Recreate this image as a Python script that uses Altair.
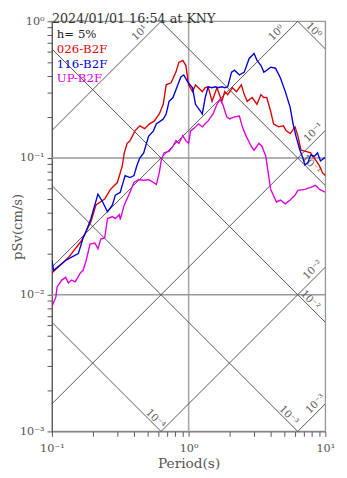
import altair as alt
import pandas as pd
import numpy as np

TITLE = "2024/01/01 16:54 at KNY"
DAMPING = "h= 5%"
SERIES = ["026-B2F", "116-B2F", "UP-B2F"]
COLORS = ["#dd0000", "#0000dd", "#dd00dd"]
FONT = "DejaVu Serif"

red_T = [0.100, 0.132, 0.164, 0.193, 0.210, 0.243, 0.268, 0.301, 0.327, 0.338, 0.355, 0.373, 0.405, 0.439,
         0.477, 0.518, 0.562, 0.610, 0.652, 0.685, 0.744, 0.807, 0.849, 0.906, 0.953, 1.000, 1.068, 1.122,
         1.179, 1.259, 1.322, 1.389, 1.484, 1.611, 1.750, 1.837, 1.931, 2.096, 2.239, 2.430, 2.553, 2.683,
         2.914, 3.162, 3.378, 3.548, 3.728, 3.981, 4.179, 4.541, 4.929, 5.179, 5.529, 6.005, 6.310, 6.631,
         7.197, 7.810, 8.072, 8.483, 9.060, 9.520, 10.0]
red_sv = [0.0144, 0.0187, 0.0247, 0.0343, 0.0454, 0.0501, 0.0590, 0.0662, 0.0877, 0.109, 0.128, 0.134, 0.158,
          0.172, 0.164, 0.178, 0.187, 0.210, 0.247, 0.343, 0.355, 0.425, 0.501, 0.518, 0.477, 0.343, 0.306,
          0.343, 0.327, 0.306, 0.327, 0.332, 0.260, 0.327, 0.260, 0.306, 0.291, 0.327, 0.306, 0.343, 0.291,
          0.260, 0.277, 0.247, 0.291, 0.277, 0.277, 0.220, 0.178, 0.169, 0.172, 0.158, 0.151, 0.169, 0.144,
          0.114, 0.112, 0.109, 0.103, 0.0968, 0.0877, 0.0781, 0.0744]

blue_T = [0.100, 0.103, 0.126, 0.137, 0.156, 0.169, 0.178, 0.193, 0.217, 0.235, 0.255, 0.277, 0.291, 0.316,
          0.343, 0.373, 0.398, 0.418, 0.439, 0.469, 0.509, 0.553, 0.581, 0.610, 0.652, 0.685, 0.719, 0.768,
          0.834, 0.877, 0.921, 0.984, 1.068, 1.122, 1.219, 1.259, 1.322, 1.389, 1.484, 1.560, 1.638, 1.750,
          1.837, 1.931, 2.062, 2.166, 2.352, 2.553, 2.773, 2.914, 3.011, 3.162, 3.378, 3.548, 3.728, 3.981,
          4.321, 4.694, 5.095, 5.529, 5.808, 6.105, 6.522, 6.855, 7.080, 7.438, 7.810, 8.343, 8.770, 9.210,
          9.840, 10.0]
blue_sv = [0.0178, 0.0151, 0.0178, 0.0187, 0.0200, 0.0260, 0.0291, 0.0361, 0.0544, 0.0477, 0.0405, 0.0454,
           0.0535, 0.0562, 0.0744, 0.0720, 0.0744, 0.0877, 0.100, 0.109, 0.144, 0.158, 0.178, 0.184, 0.193,
           0.210, 0.260, 0.277, 0.343, 0.392, 0.405, 0.361, 0.327, 0.247, 0.220, 0.210, 0.277, 0.332, 0.327,
           0.332, 0.327, 0.332, 0.327, 0.332, 0.425, 0.439, 0.405, 0.425, 0.535, 0.562, 0.581, 0.518, 0.477,
           0.425, 0.439, 0.462, 0.454, 0.385, 0.306, 0.235, 0.178, 0.144, 0.114, 0.100, 0.0891, 0.0921, 0.105,
           0.103, 0.109, 0.0952, 0.100, 0.100]

up_T = [0.100, 0.107, 0.109, 0.118, 0.126, 0.132, 0.139, 0.148, 0.161, 0.169, 0.178, 0.190, 0.206, 0.217,
        0.228, 0.243, 0.255, 0.277, 0.291, 0.311, 0.316, 0.338, 0.367, 0.398, 0.432, 0.469, 0.509, 0.553,
        0.581, 0.610, 0.631, 0.662, 0.719, 0.768, 0.807, 0.849, 0.906, 0.953, 1.000, 1.033, 1.086, 1.122,
        1.179, 1.259, 1.322, 1.389, 1.509, 1.611, 1.693, 1.778, 1.900, 1.995, 2.166, 2.352, 2.471, 2.639,
        2.866, 3.011, 3.268, 3.434, 3.668, 3.728, 3.981, 4.394, 4.694, 5.095, 5.529, 6.005, 6.310, 7.080,
        7.810, 8.483, 9.060, 10.0]
up_sv = [0.00820, 0.00968, 0.0114, 0.0128, 0.0134, 0.0122, 0.0128, 0.0124, 0.0144, 0.0151, 0.0178, 0.0235,
         0.0239, 0.0217, 0.0255, 0.0260, 0.0361, 0.0373, 0.0361, 0.0385, 0.0355, 0.0454, 0.0544, 0.0662,
         0.0696, 0.0685, 0.0696, 0.0662, 0.0641, 0.0781, 0.0968, 0.109, 0.112, 0.122, 0.134, 0.128, 0.146,
         0.134, 0.128, 0.158, 0.164, 0.169, 0.178, 0.169, 0.178, 0.187, 0.210, 0.247, 0.268, 0.247, 0.200,
         0.193, 0.200, 0.203, 0.169, 0.144, 0.122, 0.114, 0.128, 0.122, 0.103, 0.0921, 0.0590, 0.0477,
         0.0493, 0.0462, 0.0493, 0.0535, 0.0581, 0.0590, 0.0611, 0.0631, 0.0590, 0.0562]

# tripartite guide lines: displacement (cm) and acceleration (cm/s^2)
disp_levels = [1e-4, 1e-3, 1e-2, 1e-1, 1.0]
disp_texts = ["10⁻⁴", "10⁻³", "10⁻²", "10⁻¹", "10⁰"]
disp_label_T = [0.54, 5.09, 7.31, 7.44, 7.74]
acc_levels = [1e-3, 1e-2, 1e-1, 1.0, 10.0]
acc_texts = ["10⁻³", "10⁻²", "10⁻¹", "10⁰", "10¹"]
acc_label_T = [9.2, 8.8, 8.9, 4.77, 0.477]

x_ticks = [k * 10.0 ** e for e in (-1, 0) for k in range(1, 10)] + [10.0]
y_ticks = [k * 10.0 ** e for e in (-3, -2, -1) for k in range(1, 10)] + [1.0]

rows = []
for name, Ts, Ss in zip(SERIES, [red_T, blue_T, up_T], [red_sv, blue_sv, up_sv]):
    assert len(Ts) == len(Ss), name
    for i, (t, s) in enumerate(zip(Ts, Ss)):
        rows.append({"series": name, "T": t, "Sv": s, "i": i})
curves = pd.DataFrame(rows)

TWO_PI = 2 * np.pi
diag_rows = []
for d, txt in zip(disp_levels, disp_texts):
    for t in (0.1, 10.0):
        diag_rows.append({"line": "D" + txt, "T": t, "Sv": TWO_PI * d / t})
for a, txt in zip(acc_levels, acc_texts):
    for t in (0.1, 10.0):
        diag_rows.append({"line": "A" + txt, "T": t, "Sv": a * t / TWO_PI})
diag = pd.DataFrame(diag_rows)

disp_lab = pd.DataFrame({"T": disp_label_T,
                         "Sv": [TWO_PI * d / t for d, t in zip(disp_levels, disp_label_T)],
                         "label": disp_texts})
acc_lab = pd.DataFrame({"T": acc_label_T,
                        "Sv": [a * t / TWO_PI for a, t in zip(acc_levels, acc_label_T)],
                        "label": acc_texts})

x_label_expr = ("datum.value == 0.1 ? '10⁻¹' : datum.value == 1 ? '10⁰' : "
                "datum.value == 10 ? '10¹' : ''")
y_label_expr = ("datum.value == 1 ? '10⁰' : datum.value == 0.1 ? '10⁻¹' : "
                "datum.value == 0.01 ? '10⁻²' : datum.value == 0.001 ? '10⁻³' : ''")

x_axis = alt.Axis(values=x_ticks, labelExpr=x_label_expr, title="Period(s)",
                  titleFont=FONT, titleFontSize=14, titleFontWeight="normal", titleColor="#555",
                  titleX=140, titleY=37, titleAlign="center", titleBaseline="alphabetic",
                  labelFont=FONT, labelFontSize=11.5, labelColor="#555", labelBaseline="alphabetic",
                  labelPadding=16, labelOverlap=False, labelFlush=False,
                  tickSize=5, tickColor="#555", domainColor="#777", grid=False)
y_axis = alt.Axis(values=y_ticks, labelExpr=y_label_expr, title="pSv(cm/s)",
                  titleFont=FONT, titleFontSize=13.5, titleFontWeight="normal", titleColor="#555",
                  titleX=-31, titleY=210, titleAngle=270, titleAlign="center", titleBaseline="alphabetic",
                  labelFont=FONT, labelFontSize=11.5, labelColor="#555", labelBaseline="middle",
                  labelPadding=3, labelOverlap=False, labelFlush=False,
                  tickSize=5, tickColor="#555", domainColor="#555", grid=False)

x_scale = alt.Scale(type="log", domain=[0.1, 10], nice=False)
y_scale = alt.Scale(type="log", domain=[0.001, 1], nice=False)
X = alt.X("T:Q", scale=x_scale, axis=x_axis)
Y = alt.Y("Sv:Q", scale=y_scale, axis=y_axis)

vgrid = alt.Chart(pd.DataFrame({"T": [1.0]})).mark_rule(color="#aaa", strokeWidth=1.6).encode(x=X)
hgrid = alt.Chart(pd.DataFrame({"Sv": [0.1, 0.01]})).mark_rule(color="#999", strokeWidth=1.4).encode(y=Y)

diag_lines = alt.Chart(diag).mark_line(clip=True, color="#555", strokeWidth=1.0).encode(
    x=X, y=Y, detail="line:N")

disp_text = alt.Chart(disp_lab).mark_text(angle=45, dy=-5, align="center", baseline="middle",
                                          font=FONT, fontSize=10.5, color="#555").encode(
    x=X, y=Y, text="label:N")
acc_text = alt.Chart(acc_lab).mark_text(angle=315, dy=-7, align="center", baseline="middle",
                                        font=FONT, fontSize=10.5, color="#555").encode(
    x=X, y=Y, text="label:N")

curve_lines = alt.Chart(curves).mark_line(clip=True, strokeWidth=1.4).encode(
    x=X, y=Y,
    color=alt.Color("series:N", scale=alt.Scale(domain=SERIES, range=COLORS), legend=None),
    order="i:Q")

one = pd.DataFrame({"a": [0]})
title_layer = alt.Chart(one).mark_text(align="left", baseline="alphabetic", font=FONT, fontSize=13,
                                       color="#333").encode(
    x=alt.value(0), y=alt.value(1.5), text=alt.value(TITLE))

legend_layers = [alt.Chart(one).mark_text(align="left", baseline="alphabetic", font=FONT, fontSize=12,
                                          color="#222").encode(
    x=alt.value(5), y=alt.value(17), text=alt.value(DAMPING))]
for k, (name, col) in enumerate(zip(SERIES, COLORS)):
    legend_layers.append(
        alt.Chart(one).mark_text(align="left", baseline="alphabetic", font=FONT, fontSize=12,
                                 color=col).encode(
            x=alt.value(5), y=alt.value(32.5 + 15 * k), text=alt.value(name)))

chart = alt.layer(vgrid, hgrid, diag_lines, disp_text, acc_text, curve_lines, title_layer,
                  *legend_layers).properties(
    width=280, height=420,
    autosize=alt.AutoSizeParams(type="none"),
    padding={"left": 45, "top": 8, "right": 14, "bottom": 40},
    background="white",
).configure_view(stroke="#999", strokeWidth=1.4)

chart.save("out.html", embed_options={"renderer": "svg", "actions": False})
